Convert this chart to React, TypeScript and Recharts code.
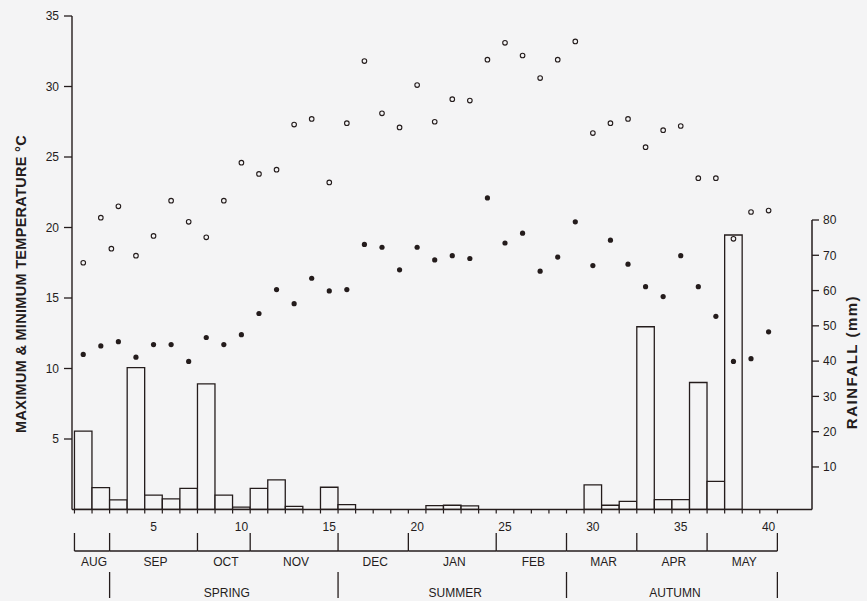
import React from 'react';
import { ComposedChart, Bar, Scatter, XAxis, YAxis, ReferenceLine, ReferenceArea } from 'recharts';

// ---------- data ----------
const weeks = [1, 2, 3, 4, 5, 6, 7, 8, 9, 10, 11, 12, 13, 14, 15, 16, 17, 18, 19, 20,
  21, 22, 23, 24, 25, 26, 27, 28, 29, 30, 31, 32, 33, 34, 35, 36, 37, 38, 39, 40];

const rainfallMm = [22.2, 6.2, 2.7, 40.2, 4.1, 3.0, 6.0, 35.6, 4.1, 0.7, 6.0, 8.4, 0.9, 0, 6.3, 1.4,
  0, 0, 0, 0, 1.1, 1.2, 1.0, 0, 0, 0, 0, 0, 0, 7.0, 1.2, 2.3, 51.8, 2.8, 2.8, 36.0, 8.0, 77.8, 0, 0];

const maxTemp = [17.5, 20.7, 21.5, 18.0, 19.4, 21.9, 20.4, 19.3, 21.9, 24.6, 23.8, 24.1, 27.3, 27.7, 23.2, 27.4,
  31.8, 28.1, 27.1, 30.1, 27.5, 29.1, 29.0, 31.9, 33.1, 32.2, 30.6, 31.9, 33.2, 26.7, 27.4, 27.7,
  25.7, 26.9, 27.2, 23.5, 23.5, 19.2, 21.1, 21.2];

const minTemp = [11.0, 11.6, 11.9, 10.8, 11.7, 11.7, 10.5, 12.2, 11.7, 12.4, 13.9, 15.6, 14.6, 16.4, 15.5, 15.6,
  18.8, 18.6, 17.0, 18.6, 17.7, 18.0, 17.8, 22.1, 18.9, 19.6, 16.9, 17.9, 20.4, 17.3, 19.1, 17.4,
  15.8, 15.1, 18.0, 15.8, 13.7, 10.5, 10.7, 12.6];

const extraMaxWeek = [2.6];
const extraMaxTemp = [18.5];

const weekTickLabels = [5, 10, 15, 20, 25, 30, 35, 40];
const weekBoundaries = [0.5, 1.5, 2.5, 3.5, 4.5, 5.5, 6.5, 7.5, 8.5, 9.5, 10.5, 11.5, 12.5, 13.5, 14.5, 15.5,
  16.5, 17.5, 18.5, 19.5, 20.5, 21.5, 22.5, 23.5, 24.5, 25.5, 26.5, 27.5, 28.5, 29.5, 30.5, 31.5, 32.5,
  33.5, 34.5, 35.5, 36.5, 37.5, 38.5, 39.5, 40.5];
const tempTicks = [5, 10, 15, 20, 25, 30, 35];
const rainTicks = [10, 20, 30, 40, 50, 60, 70, 80];

const monthNames = ['AUG', 'SEP', 'OCT', 'NOV', 'DEC', 'JAN', 'FEB', 'MAR', 'APR', 'MAY'];
const monthStart = [0.5, 2.5, 7.5, 10.5, 15.5, 19.5, 24.5, 28.5, 32.5, 36.5];
const monthEnd = [2.5, 7.5, 10.5, 15.5, 19.5, 24.5, 28.5, 32.5, 36.5, 40.5];

const seasonNames = ['SPRING', 'SUMMER', 'AUTUMN'];
const seasonStart = [2.5, 15.5, 28.5];
const seasonEnd = [15.5, 28.5, 40.5];

// ---------- layout / style ----------
const W = 867;
const H = 601;
const PLOT_TOP = 16;
const PLOT_BOTTOM = 509.5;
const PLOT_LEFT = 72;
const PLOT_RIGHT = 812;
const PLOT_H = PLOT_BOTTOM - PLOT_TOP;
const XMIN = 0.36;
const XMAX = 42.47;
const WEEK_PX = (PLOT_RIGHT - PLOT_LEFT) / (XMAX - XMIN);
const RAIN_PX = 3.528; // px per mm on the printed rainfall scale
const RAIN_AXIS_MIN = 80 - (PLOT_BOTTOM - 220) / RAIN_PX;
const RAIN_AXIS_MAX = 80 + (220 - PLOT_TOP) / RAIN_PX;
const RAIN_BAR_MAX = PLOT_H / RAIN_PX;

const BG = '#f4f4f5';
const INK = '#241c1c';
const FONT = '"Liberation Sans", Arial, Helvetica, sans-serif';

const rows = weeks.map((w, i) => ({ week: w, rain: rainfallMm[i], tmax: maxTemp[i], tmin: minTemp[i] }));
const extraRows = extraMaxWeek.map((w, i) => ({ week: w, tmax: extraMaxTemp[i] }));
const axisTicks = [...weekBoundaries, ...weekTickLabels];

// ---------- shapes ----------
const OpenDot = (p: any) =>
  p.cx == null ? null : <circle cx={p.cx} cy={p.cy} r={2.3} fill={BG} stroke={INK} strokeWidth={1.1} />;
const FilledDot = (p: any) =>
  p.cx == null ? null : <circle cx={p.cx} cy={p.cy} r={2.6} fill={INK} />;

const WeekTick = (p: any) => {
  const v = p.payload?.value;
  if (v == null) return null;
  if (Number.isInteger(v)) {
    return (
      <text x={p.x} y={p.y + 21.5} textAnchor="middle" fontSize={12} fill={INK} fontFamily={FONT}>
        {v}
      </text>
    );
  }
  return <line x1={p.x} y1={p.y} x2={p.x} y2={p.y + 4} stroke={INK} strokeWidth={1.2} />;
};

const monthShape = (name: string, last: boolean) => (p: any) => {
  const { x, y, width, height } = p;
  return (
    <g>
      <line x1={x} y1={y + height} x2={x + width} y2={y + height} stroke={INK} strokeWidth={1.3} />
      <line x1={x} y1={y} x2={x} y2={y + height} stroke={INK} strokeWidth={1.3} />
      {last && <line x1={x + width} y1={y} x2={x + width} y2={y + height} stroke={INK} strokeWidth={1.3} />}
      <text x={x + width / 2 + 2} y={y + height + 15} textAnchor="middle" fontSize={12} fill={INK} fontFamily={FONT}>
        {name}
      </text>
    </g>
  );
};

const seasonShape = (name: string, last: boolean) => (p: any) => {
  const { x, y, width, height } = p;
  return (
    <g>
      <line x1={x} y1={y} x2={x} y2={y + height} stroke={INK} strokeWidth={1.3} />
      {last && <line x1={x + width} y1={y} x2={x + width} y2={y + height} stroke={INK} strokeWidth={1.3} />}
      <text x={x + width / 2 + 3} y={y + height - 1} textAnchor="middle" fontSize={12} fill={INK} fontFamily={FONT}>
        {name}
      </text>
    </g>
  );
};

const AxisTitle = (p: any) => (
  <text
    x={p.tx}
    y={p.ty}
    transform={`rotate(-90 ${p.tx} ${p.ty})`}
    textAnchor="middle"
    dominantBaseline="central"
    fontSize={p.fs}
    fontWeight="bold"
    letterSpacing={p.ls}
    fill={INK}
    fontFamily={FONT}
  >
    {p.text}
  </text>
);

export default function App() {
  return (
    <div style={{ position: 'absolute', left: 0, top: 0, width: W, height: H, background: BG }}>
      <ComposedChart
        width={W}
        height={H}
        data={rows}
        margin={{ top: PLOT_TOP, right: 0, bottom: 0, left: 0 }}
        style={{ fontFamily: FONT }}
      >
        <XAxis
          xAxisId={0}
          dataKey="week"
          type="number"
          domain={[XMIN, XMAX]}
          allowDataOverflow
          ticks={axisTicks}
          interval={0}
          tick={<WeekTick />}
          tickLine={false}
          tickSize={0}
          tickMargin={0}
          height={H - PLOT_BOTTOM}
          axisLine={{ stroke: INK, strokeWidth: 1.4 }}
        />
        <XAxis xAxisId="extra" dataKey="week" type="number" domain={[XMIN, XMAX]} allowDataOverflow hide height={0} />
        <YAxis yAxisId="band" type="number" domain={[0, PLOT_H]} allowDataOverflow hide width={0} />
        <YAxis
          yAxisId="temp"
          type="number"
          domain={[0, 35]}
          allowDataOverflow
          ticks={tempTicks}
          interval={0}
          width={PLOT_LEFT}
          tickSize={8}
          tickMargin={5}
          tick={{ fontSize: 12, fill: INK, fontFamily: FONT }}
          tickLine={{ stroke: INK, strokeWidth: 1.3 }}
          axisLine={{ stroke: INK, strokeWidth: 1.4 }}
          label={<AxisTitle tx={21} ty={284} fs={14.5} ls={0.3} text="MAXIMUM & MINIMUM TEMPERATURE °C" />}
        />
        <YAxis yAxisId="rain" orientation="right" type="number" domain={[0, RAIN_BAR_MAX]} allowDataOverflow hide width={0} />
        <YAxis
          yAxisId="rainAxis"
          orientation="right"
          type="number"
          domain={[RAIN_AXIS_MIN, RAIN_AXIS_MAX]}
          allowDataOverflow
          ticks={rainTicks}
          interval={0}
          width={W - PLOT_RIGHT}
          tickSize={7}
          tickMargin={4}
          tick={{ fontSize: 12, fill: INK, fontFamily: FONT }}
          tickLine={{ stroke: INK, strokeWidth: 1.3 }}
          axisLine={false}
          label={<AxisTitle tx={851} ty={362} fs={15} ls={1.5} text="RAINFALL (mm)" />}
        />

        <ReferenceLine
          yAxisId="rainAxis"
          segment={[{ x: XMAX, y: RAIN_AXIS_MIN }, { x: XMAX, y: 80 }]}
          stroke={INK}
          strokeWidth={1.5}
          ifOverflow="visible"
        />

        <Bar
          dataKey="rain"
          yAxisId="rain"
          barSize={Math.floor(WEEK_PX * 10) / 10}
          fill={BG}
          stroke={INK}
          strokeWidth={1.3}
          isAnimationActive={false}
        />
        <Scatter dataKey="tmax" yAxisId="temp" shape={OpenDot} isAnimationActive={false} />
        <Scatter data={extraRows} xAxisId="extra" dataKey="tmax" yAxisId="temp" shape={OpenDot} isAnimationActive={false} />
        <Scatter dataKey="tmin" yAxisId="temp" shape={FilledDot} isAnimationActive={false} />

        {monthNames.map((m, i) => (
          <ReferenceArea
            key={m}
            yAxisId="band"
            x1={monthStart[i]}
            x2={monthEnd[i]}
            y1={-41.5}
            y2={-23.5}
            ifOverflow="visible"
            shape={monthShape(m, i === monthNames.length - 1)}
          />
        ))}
        {seasonNames.map((s, i) => (
          <ReferenceArea
            key={s}
            yAxisId="band"
            x1={seasonStart[i]}
            x2={seasonEnd[i]}
            y1={-88.5}
            y2={-62.5}
            ifOverflow="visible"
            shape={seasonShape(s, i === seasonNames.length - 1)}
          />
        ))}
      </ComposedChart>
    </div>
  );
}
